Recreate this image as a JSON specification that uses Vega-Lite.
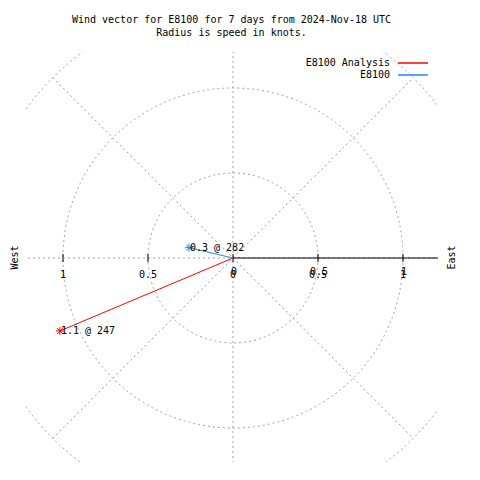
{
  "$schema": "https://vega.github.io/schema/vega-lite/v6.json",
  "width": 413,
  "height": 410,
  "autosize": {"type": "none"},
  "padding": {"left": 25, "top": 52, "right": 42, "bottom": 18},
  "background": "white",
  "config": {
    "font": "DejaVu Sans Mono",
    "view": {"stroke": null},
    "text": {"font": "DejaVu Sans Mono", "fontSize": 10, "color": "black"}
  },
  "title": {
    "text": ["Wind vector for E8100 for 7 days from 2024-Nov-18 UTC", "Radius is speed in knots."],
    "font": "DejaVu Sans Mono",
    "fontSize": 10,
    "fontWeight": "normal",
    "color": "black",
    "lineHeight": 13,
    "anchor": "middle",
    "baseline": "bottom",
    "offset": 4
  },
  "datasets": {
    "grid": [
      {"x": -1.5, "y": 0, "x2": 1.5, "y2": 0},
      {"x": 0, "y": -1.5, "x2": 0, "y2": 1.5},
      {"x": -1.0607, "y": -1.0607, "x2": 1.0607, "y2": 1.0607},
      {"x": -1.0607, "y": 1.0607, "x2": 1.0607, "y2": -1.0607}
    ],
    "rings": [{"x": 0, "y": 0, "r": 0.5}, {"x": 0, "y": 0, "r": 1}, {"x": 0, "y": 0, "r": 1.5}],
    "raxis": [{"x": 0, "y": 0, "x2": 1.5, "y2": 0}],
    "ticks": [{"x": -1, "y": 0}, {"x": -0.5, "y": 0}, {"x": 0, "y": 0}, {"x": 0.5, "y": 0}, {"x": 1, "y": 0}],
    "xlabels": [
      {"x": -1, "y": 0, "label": "1"}, {"x": -0.5, "y": 0, "label": "0.5"}, {"x": 0, "y": 0, "label": "0"},
      {"x": 0.5, "y": 0, "label": "0.5"}, {"x": 1, "y": 0, "label": "1"}
    ],
    "rlabels": [{"x": 0, "y": 0, "label": "0"}, {"x": 0.5, "y": 0, "label": "0.5"}, {"x": 1, "y": 0, "label": "1"}],
    "vectors": [
      {"series": "E8100 Analysis", "x0": 0, "y0": 0, "x": -1.018, "y": -0.429, "label": "1.1 @ 247"},
      {"series": "E8100", "x0": 0, "y0": 0, "x": -0.259, "y": 0.061, "label": "0.3 @ 282"}
    ]
  },
  "resolve": {"axis": {"y": "independent"}},
  "layer": [
    {
      "data": {"name": "grid"},
      "mark": {"type": "rule", "stroke": "#a0a0a0", "strokeDash": [2, 3], "strokeWidth": 1, "clip": true},
      "encoding": {
        "x": {
          "field": "x", "type": "quantitative",
          "scale": {"domain": [-1.2235, 1.2059], "nice": false, "zero": false},
          "axis": {
            "orient": "bottom", "offset": -204, "labels": false,
            "ticks": false, "domain": false, "grid": false,
            "title": "South", "titleFont": "DejaVu Sans Mono", "titleFontSize": 10, "titleFontWeight": "normal",
            "titleColor": "black", "titlePadding": 207
          }
        },
        "y": {
          "field": "y", "type": "quantitative",
          "scale": {"domain": [-1.2, 1.2118], "nice": false, "zero": false},
          "axis": {
            "orient": "left", "labels": false, "ticks": false, "domain": false, "grid": false,
            "title": "West", "titleFont": "DejaVu Sans Mono", "titleFontSize": 10, "titleFontWeight": "normal",
            "titleColor": "black", "titlePadding": 6
          }
        },
        "x2": {"field": "x2"},
        "y2": {"field": "y2"}
      }
    },
    {
      "data": {"name": "rings"},
      "mark": {"type": "point", "shape": "circle", "filled": false, "stroke": "#a0a0a0", "strokeDash": [2, 3], "strokeWidth": 1, "opacity": 1, "clip": true},
      "encoding": {
        "x": {"field": "x", "type": "quantitative", "scale": {"domain": [-1.2235, 1.2059], "nice": false, "zero": false}, "axis": null},
        "y": {"field": "y", "type": "quantitative", "scale": {"domain": [-1.2, 1.2118], "nice": false, "zero": false}, "axis": null},
        "size": {"field": "r", "type": "quantitative", "scale": {"type": "pow", "exponent": 2, "domain": [0, 1.5], "range": [0, 260100]}, "legend": null}
      }
    },
    {
      "data": {"name": "raxis"},
      "mark": {"type": "rule", "stroke": "black", "strokeWidth": 1, "clip": true},
      "encoding": {
        "x": {"field": "x", "type": "quantitative", "scale": {"domain": [-1.2235, 1.2059], "nice": false, "zero": false}, "axis": null},
        "y": {
          "field": "y", "type": "quantitative",
          "scale": {"domain": [-1.2, 1.2118], "nice": false, "zero": false},
          "axis": {
            "orient": "right", "labels": false, "ticks": false, "domain": false, "grid": false,
            "title": "East", "titleAngle": 270, "titleFont": "DejaVu Sans Mono", "titleFontSize": 10, "titleFontWeight": "normal",
            "titleColor": "black", "titlePadding": 18
          }
        },
        "x2": {"field": "x2"},
        "y2": {"field": "y2"}
      }
    },
    {
      "data": {"name": "ticks"},
      "mark": {"type": "point", "shape": "M0,-1V1", "size": 64, "filled": false, "stroke": "black", "strokeWidth": 1, "opacity": 1},
      "encoding": {
        "x": {"field": "x", "type": "quantitative", "scale": {"domain": [-1.2235, 1.2059], "nice": false, "zero": false}, "axis": null},
        "y": {"field": "y", "type": "quantitative", "scale": {"domain": [-1.2, 1.2118], "nice": false, "zero": false}, "axis": null}
      }
    },
    {
      "data": {"name": "xlabels"},
      "mark": {"type": "text", "align": "center", "baseline": "top", "dy": 12, "font": "DejaVu Sans Mono", "fontSize": 10, "color": "black"},
      "encoding": {
        "x": {"field": "x", "type": "quantitative", "scale": {"domain": [-1.2235, 1.2059], "nice": false, "zero": false}, "axis": null},
        "y": {"field": "y", "type": "quantitative", "scale": {"domain": [-1.2, 1.2118], "nice": false, "zero": false}, "axis": null},
        "text": {"field": "label"}
      }
    },
    {
      "data": {"name": "rlabels"},
      "mark": {"type": "text", "align": "center", "baseline": "top", "dx": 1, "dy": 9, "font": "DejaVu Sans Mono", "fontSize": 10, "color": "black"},
      "encoding": {
        "x": {"field": "x", "type": "quantitative", "scale": {"domain": [-1.2235, 1.2059], "nice": false, "zero": false}, "axis": null},
        "y": {"field": "y", "type": "quantitative", "scale": {"domain": [-1.2, 1.2118], "nice": false, "zero": false}, "axis": null},
        "text": {"field": "label"}
      }
    },
    {
      "data": {"name": "vectors"},
      "mark": {"type": "rule", "strokeWidth": 1},
      "encoding": {
        "x": {"field": "x0", "type": "quantitative", "scale": {"domain": [-1.2235, 1.2059], "nice": false, "zero": false}, "axis": null},
        "y": {"field": "y0", "type": "quantitative", "scale": {"domain": [-1.2, 1.2118], "nice": false, "zero": false}, "axis": null},
        "x2": {"field": "x"},
        "y2": {"field": "y"},
        "color": {
          "field": "series", "type": "nominal",
          "scale": {"domain": ["E8100 Analysis", "E8100"], "range": ["#ff0000", "#1e88ff"]},
          "legend": {
            "orient": "none", "legendX": 382, "legendY": 5, "title": null,
            "symbolType": "M-3,0H3", "symbolSize": 100, "symbolStrokeWidth": 1.5,
            "labelAlign": "right", "labelOffset": -29, "rowPadding": 1, "padding": 0,
            "labelFont": "DejaVu Sans Mono", "labelFontSize": 10, "labelColor": "black"
          }
        }
      }
    },
    {
      "data": {"name": "vectors"},
      "mark": {"type": "point", "shape": "M-1,0H1M0,-1V1M-0.7,-0.7L0.7,0.7M-0.7,0.7L0.7,-0.7", "size": 64, "filled": false, "strokeWidth": 1, "opacity": 1},
      "encoding": {
        "x": {"field": "x", "type": "quantitative", "scale": {"domain": [-1.2235, 1.2059], "nice": false, "zero": false}, "axis": null},
        "y": {"field": "y", "type": "quantitative", "scale": {"domain": [-1.2, 1.2118], "nice": false, "zero": false}, "axis": null},
        "color": {"field": "series", "type": "nominal", "legend": null}
      }
    },
    {
      "data": {"name": "vectors"},
      "mark": {"type": "text", "align": "left", "baseline": "middle", "dx": 1, "font": "DejaVu Sans Mono", "fontSize": 10, "color": "black"},
      "encoding": {
        "x": {"field": "x", "type": "quantitative", "scale": {"domain": [-1.2235, 1.2059], "nice": false, "zero": false}, "axis": null},
        "y": {"field": "y", "type": "quantitative", "scale": {"domain": [-1.2, 1.2118], "nice": false, "zero": false}, "axis": null},
        "text": {"field": "label"}
      }
    }
  ]
}
